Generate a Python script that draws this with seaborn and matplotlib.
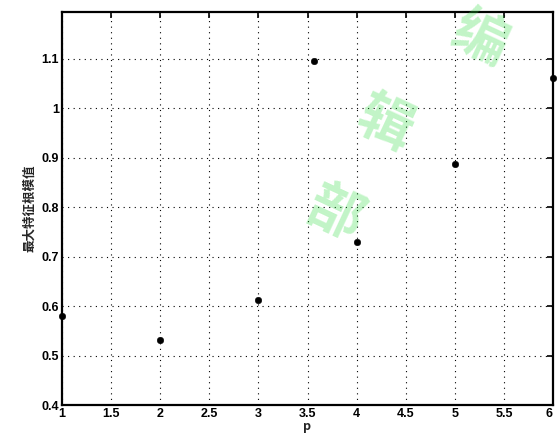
import matplotlib
matplotlib.use("Agg")
import matplotlib.pyplot as plt
import seaborn as sns
import pandas as pd

p_vals = [1, 2, 3, 3.57, 4, 5, 6]
modulus = [0.58, 0.532, 0.613, 1.094, 0.73, 0.886, 1.06]
x_ticks = [1, 1.5, 2, 2.5, 3, 3.5, 4, 4.5, 5, 5.5, 6]
x_labels = ["1", "1.5", "2", "2.5", "3", "3.5", "4", "4.5", "5", "5.5", "6"]
y_ticks = [0.4, 0.5, 0.6, 0.7, 0.8, 0.9, 1.0, 1.1]
y_labels = ["0.4", "0.5", "0.6", "0.7", "0.8", "0.9", "1", "1.1"]

sns.set_style("white")
plt.rcParams['font.family'] = ['Noto Sans CJK SC', 'DejaVu Sans']

df = pd.DataFrame({"p": p_vals, "m": modulus})

fig = plt.figure(figsize=(5.57, 4.34), dpi=100)
ax = fig.add_axes([62/557, 1 - 405/434, (553-62)/557, (405-12)/434])

sns.scatterplot(data=df, x="p", y="m", ax=ax, color="black", s=22,
                edgecolor="black", marker="o", clip_on=False, zorder=5)

ax.set_xlim(1, 6)
ax.set_ylim(0.4, 1.194)
ax.set_xticks(x_ticks)
ax.set_xticklabels(x_labels, fontweight="bold", fontsize=9,
                   family=["Liberation Sans", "DejaVu Sans"])
ax.set_yticks(y_ticks)
ax.set_yticklabels(y_labels, fontweight="bold", fontsize=9,
                   family=["Liberation Sans", "DejaVu Sans"])
ax.get_xticklabels()[-1].set_horizontalalignment("right")
ax.tick_params(direction="in", top=True, right=True, length=4, width=1.2,
               pad=2, colors="black")
ax.grid(True, linestyle=(0, (1, 4)), color="black", linewidth=0.8)
for s in ax.spines.values():
    s.set_visible(True)
    s.set_color("black")
    s.set_linewidth(1.6)

ax.set_xlabel("p", fontweight="bold", fontsize=9, labelpad=0)
ax.set_ylabel("最大特征根模值", fontweight="bold", fontsize=9, labelpad=4)

# watermark
wm = dict(color="#33dd44", alpha=0.3, fontsize=40, fontweight="bold",
          rotation=-25, ha="center", va="center", transform=fig.transFigure,
          zorder=0)
fig.text(480/557, 1 - 40/434, "编", **wm)
fig.text(385/557, 1 - 125/434, "辑", **wm)
fig.text(335/557, 1 - 215/434, "部", **wm)

fig.savefig("out.png", dpi=100)
